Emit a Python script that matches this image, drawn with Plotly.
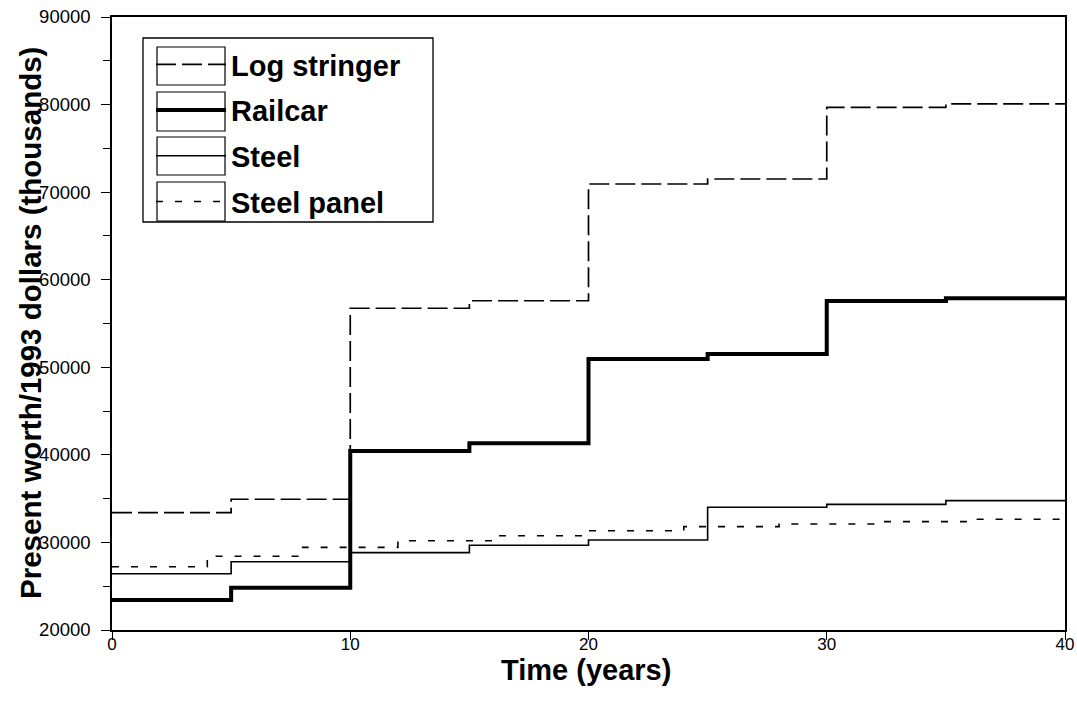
import plotly.graph_objects as go

# ---- data ----
years_5 = [0, 5, 10, 15, 20, 25, 30, 35, 40]
years_4 = [0, 4, 8, 12, 16, 20, 24, 28, 32, 36, 40]

log_stringer = [33400, 34930, 56740, 57600, 70930, 71500, 79690, 80080]
railcar = [23430, 24830, 40440, 41320, 50950, 51520, 57570, 57880]
steel = [26430, 27800, 28830, 29670, 30280, 34010, 34350, 34770]
steel_panel = [27230, 28420, 29440, 30200, 30770, 31340, 31800, 32100, 32370, 32640]

series_names = ["Log stringer", "Railcar", "Steel", "Steel panel"]

x_tickvals = [0, 10, 20, 30, 40]
x_ticktext = ["0", "10", "20", "30", "40"]
y_tickvals = [20000, 30000, 40000, 50000, 60000, 70000, 80000, 90000]

x_title = "Time (years)"
y_title = "Present worth/1993 dollars (thousands)"

FONT = "Liberation Sans, Arial, Helvetica, sans-serif"


def step(vals):
    # repeat last value so the final step reaches the end of the axis
    return list(vals) + [vals[-1]]


fig = go.Figure()
fig.add_trace(go.Scatter(
    x=years_5, y=step(log_stringer), name=series_names[0], mode="lines",
    line=dict(color="black", width=1.7, dash="20px,6px", shape="hv"),
    legendgroup="a"))
fig.add_trace(go.Scatter(
    x=years_5, y=step(railcar), name=series_names[1], mode="lines",
    line=dict(color="black", width=4, shape="hv"), legendgroup="b"))
fig.add_trace(go.Scatter(
    x=years_5, y=step(steel), name=series_names[2], mode="lines",
    line=dict(color="black", width=1.6, shape="hv"), legendgroup="c"))
fig.add_trace(go.Scatter(
    x=years_4, y=step(steel_panel), name=series_names[3], mode="lines",
    line=dict(color="black", width=1.6, dash="7px,12px", shape="hv"),
    legendgroup="d"))

W, H = 1077, 706
# plot area in pixels: left 112, right 1065, top 17, bottom 630
L, R, T, B = 112, 1065, 17, 630


def px(xs):
    return (xs - L) / (R - L)


def py(ys):
    return (B - ys) / (B - T)


# legend frame and boxes around the legend samples (style only)
shapes = [dict(type="rect", xref="paper", yref="paper",
               x0=px(143), x1=px(433), y0=py(222), y1=py(38),
               line=dict(color="black", width=1.3), layer="above")]
for top, bot in [(47, 85), (92, 131), (137, 175), (182, 221)]:
    shapes.append(dict(type="rect", xref="paper", yref="paper",
                       x0=px(157), x1=px(225), y0=py(bot), y1=py(top),
                       line=dict(color="black", width=1.2), layer="above"))

annotations = [
    dict(text=x_title, xref="paper", yref="paper", x=px(586), y=py(670),
         xanchor="center", yanchor="middle", showarrow=False,
         font=dict(family=FONT, size=29, color="black", weight="bold")),
    dict(text=y_title, xref="paper", yref="paper", x=px(30), y=py(323),
         xanchor="center", yanchor="middle", showarrow=False, textangle=-90,
         font=dict(family=FONT, size=29.5, color="black", weight="bold")),
]

fig.update_layout(
    width=W, height=H,
    margin=dict(l=L, r=W - R, t=T, b=H - B),
    paper_bgcolor="white", plot_bgcolor="white",
    font=dict(family=FONT, color="black"),
    showlegend=True,
    shapes=shapes,
    annotations=annotations,
    legend=dict(
        x=px(151), y=py(39), xanchor="left", yanchor="top",
        borderwidth=0, bgcolor="rgba(0,0,0,0)",
        font=dict(family=FONT, size=29, color="black", weight="bold"),
        tracegroupgap=5, itemwidth=70, traceorder="grouped",
    ),
    xaxis=dict(
        range=[0, 40], tickmode="array", tickvals=x_tickvals, ticktext=x_ticktext,
        ticks="outside", ticklen=8, tickwidth=1.3, tickcolor="black",
        showline=True, linecolor="black", linewidth=1.5, mirror=True,
        showgrid=False, zeroline=False, automargin=False,
        ticklabelstandoff=-10, ticklabeloverflow="allow",
        tickfont=dict(family=FONT, size=17, color="black"),
    ),
    yaxis=dict(
        range=[20000, 90000], tickmode="array", tickvals=y_tickvals,
        ticks="outside", ticklen=9, tickwidth=1.3, tickcolor="black",
        minor=dict(dtick=5000, tick0=20000, ticks="outside", ticklen=7,
                   tickwidth=1.2, tickcolor="black", showgrid=False),
        showline=True, linecolor="black", linewidth=1.5, mirror=True,
        showgrid=False, zeroline=False, tickformat="d", automargin=False,
        ticklabelstandoff=7, ticklabeloverflow="allow",
        tickfont=dict(family=FONT, size=18.5, color="black"),
    ),
)

fig.write_html(
    "out.html",
    config={"displayModeBar": False},
    post_script="document.body.style.margin='0';document.body.style.overflow='hidden';",
)
